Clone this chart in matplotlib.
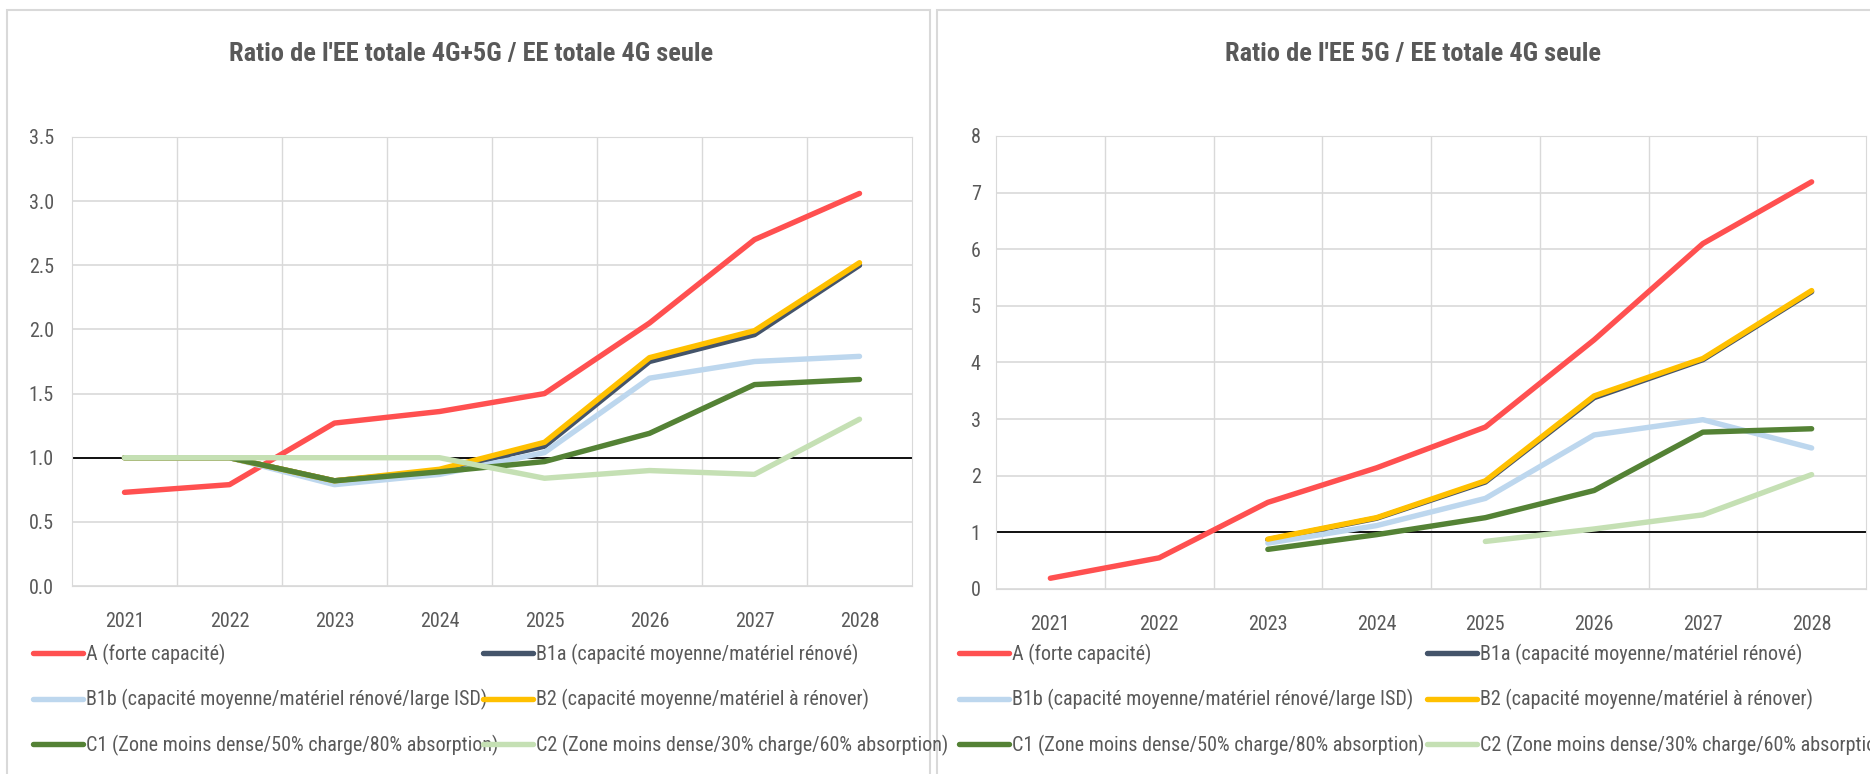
import matplotlib.pyplot as plt
import numpy as np
from matplotlib.patches import Rectangle
from matplotlib import font_manager
from matplotlib.font_manager import FontProperties

years = ['2021', '2022', '2023', '2024', '2025', '2026', '2027', '2028']

labels = [
    'A (forte capacité)',
    'B1a (capacité moyenne/matériel rénové)',
    'B1b (capacité moyenne/matériel rénové/large ISD)',
    'B2 (capacité moyenne/matériel à rénover)',
    'C1 (Zone moins dense/50% charge/80% absorption)',
    'C2 (Zone moins dense/30% charge/60% absorption)',
]

# Ratio de l'EE totale 4G+5G / EE totale 4G seule
tot_A = [0.73, 0.79, 1.27, 1.36, 1.50, 2.05, 2.70, 3.06]
tot_B1a = [1.00, 1.00, 0.82, 0.90, 1.09, 1.75, 1.96, 2.50]
tot_B1b = [1.00, 1.00, 0.79, 0.87, 1.04, 1.62, 1.75, 1.79]
tot_B2 = [1.00, 1.00, 0.82, 0.91, 1.12, 1.78, 1.99, 2.52]
tot_C1 = [1.00, 1.00, 0.82, 0.89, 0.97, 1.19, 1.57, 1.61]
tot_C2 = [1.00, 1.00, 1.00, 1.00, 0.84, 0.90, 0.87, 1.30]

# Ratio de l'EE 5G / EE totale 4G seule
g5_A = [0.19, 0.55, 1.53, 2.14, 2.86, 4.40, 6.10, 7.19]
g5_B1a = [np.nan, np.nan, 0.87, 1.25, 1.89, 3.38, 4.05, 5.25]
g5_B1b = [np.nan, np.nan, 0.81, 1.12, 1.60, 2.72, 2.99, 2.49]
g5_B2 = [np.nan, np.nan, 0.88, 1.26, 1.91, 3.41, 4.07, 5.27]
g5_C1 = [np.nan, np.nan, 0.70, 0.96, 1.26, 1.74, 2.77, 2.83]
g5_C2 = [np.nan, np.nan, np.nan, np.nan, 0.84, 1.06, 1.31, 2.02]

colors = ['#FF5050', '#44546A', '#BDD7EE', '#FFC000', '#548235', '#C5E0B4']

# look for a narrow font (the original uses Calibri)
pref = ['Liberation Sans Narrow', 'Roboto Condensed', 'Open Sans Condensed', 'Noto Sans',
        'DejaVu Sans', 'Open Sans', 'Lato', 'Roboto', 'Inter']
narrow = [f for f in font_manager.fontManager.ttflist
          if f.style == 'normal' and ('Narrow' in f.name or 'Condensed' in f.name
                                      or f.stretch in ('condensed', 'semi-condensed'))]


def pick(weight_ok):
    c = [f for f in narrow if weight_ok(f.weight)]
    c.sort(key=lambda f: pref.index(f.name) if f.name in pref else 99)
    return c[0].fname if c else None


def wnum(w):
    if isinstance(w, int):
        return w
    return {'normal': 400, 'regular': 400, 'book': 400, 'bold': 700}.get(w, 500)


reg = pick(lambda w: 350 <= wnum(w) <= 450)
bld = pick(lambda w: 600 <= wnum(w) <= 750)
if reg:
    fp = FontProperties(fname=reg, size=14.5)
else:
    fp = FontProperties(family='Liberation Sans', size=12)
if bld:
    fpt = FontProperties(fname=bld, size=19)
elif reg:
    fpt = FontProperties(fname=reg, size=19, weight='bold')
else:
    fpt = FontProperties(family='Liberation Sans', size=16, weight='bold')

text_col = '#595959'
grid_col = '#D9D9D9'

fig = plt.figure(figsize=(18.7, 7.74), dpi=100)

# panel frames
fig.patches.append(Rectangle((7 / 1870, -0.01), 923 / 1870, 1 - 10 / 774 + 0.01,
                             transform=fig.transFigure, fill=False, ec=grid_col, lw=1.5))
fig.patches.append(Rectangle((937 / 1870, -0.01), 940 / 1870, 1 - 10 / 774 + 0.01,
                             transform=fig.transFigure, fill=False, ec=grid_col, lw=1.5))


def draw(ax, series, ymax, step, fmt, title, tx, col1_x, col2_x, ypad):
    x = np.arange(len(years))
    lines = []
    for s, c in zip(series, colors):
        ln, = ax.plot(x, s, color=c, lw=3.9, solid_capstyle='round', solid_joinstyle='round')
        lines.append(ln)
    ax.axhline(1, color='black', lw=1.3, zorder=1)
    ax.set_xlim(-0.5, len(years) - 0.5)
    ax.set_ylim(0, ymax)
    ax.set_xticks(x)
    ax.set_xticklabels(years, fontproperties=fp)
    ax.set_xticks(np.arange(0.5, len(years) - 0.5), minor=True)
    yt = np.arange(0, ymax + step / 2, step)
    ax.set_yticks(yt)
    ax.set_yticklabels([fmt % v for v in yt], fontproperties=fp)
    ax.grid(True, which='major', axis='y', color=grid_col, lw=1.2, zorder=0)
    ax.grid(True, which='minor', axis='x', color=grid_col, lw=1.0, zorder=0)
    ax.tick_params(which='both', length=0, colors=text_col)
    ax.tick_params(axis='x', pad=19)
    ax.tick_params(axis='y', pad=ypad)
    for sp in ax.spines.values():
        sp.set_color(grid_col)
    ax.set_axisbelow(True)
    fig.text(tx, 1 - 54 / 774, title, ha='center', va='center',
             fontproperties=fpt, color=text_col)
    for idx, cx in (([0, 2, 4], col1_x), ([1, 3, 5], col2_x)):
        fig.legend([lines[i] for i in idx], [labels[i] for i in idx],
                   loc='upper left', bbox_to_anchor=(cx, 1 - 644 / 774), frameon=False,
                   prop=fp, labelcolor=text_col, handlelength=2.5, handletextpad=0.15,
                   labelspacing=1.2, borderaxespad=0, borderpad=0)


ax1 = fig.add_axes([72 / 1870, 1 - 586 / 774, 840 / 1870, 449 / 774])
draw(ax1, [tot_A, tot_B1a, tot_B1b, tot_B2, tot_C1, tot_C2], 3.5, 0.5, '%.1f',
     "Ratio de l'EE totale 4G+5G / EE totale 4G seule", 471 / 1870,
     33 / 1870, 483 / 1870, 13)

ax2 = fig.add_axes([996 / 1870, 1 - 589 / 774, 870 / 1870, 453 / 774])
draw(ax2, [g5_A, g5_B1a, g5_B1b, g5_B2, g5_C1, g5_C2], 8, 1, '%d',
     "Ratio de l'EE 5G / EE totale 4G seule", 1413 / 1870,
     959 / 1870, 1427 / 1870, 11)

fig.savefig('out.png', dpi=100)
